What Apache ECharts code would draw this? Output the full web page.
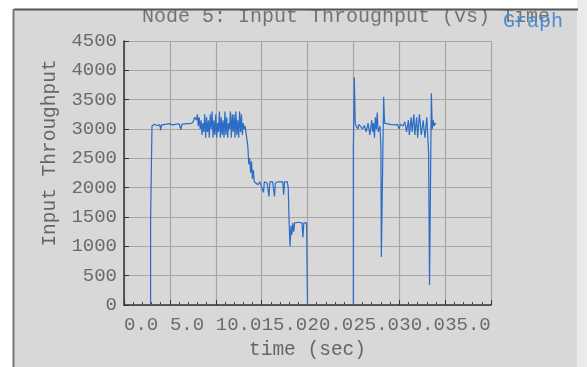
<!DOCTYPE html>
<html><head><meta charset="utf-8">
<script src="https://cdn.jsdelivr.net/npm/echarts@6/dist/echarts.min.js"></script>
<style>html,body{margin:0;padding:0;background:#fff}#c{width:587px;height:367px}</style>
</head><body><div id="c"></div>
<script>
var titleText = 'Node 5: Input Throughput (vs) Time';
var xName = 'time (sec)';
var yName = 'Input Throughput';
var xTickLabels = ['0.0','5.0','10.0','15.0','20.0','25.0','30.0','35.0'];

var t1 = [2.9,2.9,3.0,3.05,3.3,3.6,3.9,4.0,4.1,4.5,5.0,5.3,5.6,6.0,6.2,6.3,6.8,7.2,7.5,7.7,7.9,8.0,8.1,8.2,8.3,8.4,8.5,8.6,8.7,8.8,8.9,9.0,9.1,9.2,9.3,9.4,9.5,9.6,9.7,9.8,9.9,10.0,10.1,10.2,10.3,10.4,10.5,10.6,10.7,10.8,10.9,11.0,11.1,11.2,11.3,11.4,11.5,11.6,11.7,11.8,11.9,12.0,12.1,12.2,12.3,12.4,12.5,12.6,12.7,12.8,12.9,13.0,13.1,13.2,13.3,13.5,13.6,13.7,13.8,13.9,14.0,14.1,14.2,14.4,14.6,14.8,15.0,15.2,15.3,15.6,15.8,15.9,16.2,16.4,16.5,16.8,17.3,17.4,17.5,17.8,17.9,18.0,18.1,18.2,18.3,18.4,18.5,18.6,19.0,19.4,19.5,19.6,19.9,20.0,20.0];
var v1 = [0,1450,1450,3050,3080,3060,3070,2980,3070,3080,3090,3070,3080,3090,2990,3080,3090,3090,3110,3200,3150,3250,3050,3200,3000,3150,2900,3100,2950,3250,2850,3200,2950,3150,2850,3250,3000,3300,2850,3150,2900,3250,2850,3100,2950,3300,2850,3200,2900,3150,2850,3300,2900,3200,2850,3100,3000,3300,2850,3250,2950,3250,2850,3300,2900,3150,2850,3300,2950,3250,2900,3100,3000,3050,3050,2700,2400,2500,2250,2450,2150,2300,2100,2100,2050,2100,2100,1920,2100,2080,1850,2100,2100,1850,2080,2100,2100,1880,2100,2100,2000,1400,1000,1350,1200,1400,1250,1400,1410,1400,1150,1400,1400,1400,0];

var t2 = [25.0,25.0,25.1,25.2,25.3,25.5,25.6,25.8,26.0,26.2,26.4,26.6,26.8,27.0,27.1,27.2,27.3,27.4,27.5,27.6,27.7,27.9,28.0,28.05,28.1,28.3,28.4,28.6,29.0,29.5,29.8,30.0,30.1,30.4,30.6,30.8,31.0,31.1,31.3,31.4,31.6,31.7,31.9,32.0,32.2,32.4,32.6,32.8,33.0,33.1,33.2,33.3,33.5,33.6,33.7,33.8,33.9,34.0];
var v2 = [0,2700,3880,3100,3050,3000,3080,3050,3000,3060,2950,3100,2900,3150,2950,3100,2850,3200,3000,3280,2950,3050,2700,820,820,3550,3100,3080,3080,3070,3080,3000,3080,3050,3120,2950,3150,2900,3200,2950,3250,2900,3200,2850,3250,2900,3150,2850,3200,2900,2600,340,3610,3000,3150,3050,3100,3080];

function pairs(t, v){ return t.map(function(x,i){ return [x, v[i]]; }); }

var font = 'Liberation Mono';
var chart = echarts.init(document.getElementById('c'), null, {renderer:'canvas'});
var lineStyle = {color:'#2a6cc6', width:1.2};
chart.setOption({
  animation:false,
  backgroundColor:'#d8d8d8',
  title:{text:titleText, left:341, top:2, textAlign:'center',
    textStyle:{fontFamily:font, fontSize:20, fontWeight:'normal', color:'#737373'}},
  grid:{left:124, right:96, top:41, bottom:62},
  xAxis:{type:'value', min:0, max:40, interval:5,
    name:xName, nameLocation:'middle', nameGap:35,
    nameTextStyle:{fontFamily:font, fontSize:19.5, color:'#666'},
    axisLine:{show:true, lineStyle:{color:'#333', width:1.5}},
    axisTick:{show:true, inside:true, length:5, lineStyle:{color:'#333'}},
    minorTick:{show:true, splitNumber:5, length:3, lineStyle:{color:'#444'}},
    splitLine:{show:true, lineStyle:{color:'#a6a6a6', width:1.2}},
    axisLabel:{align:'left', margin:10, showMaxLabel:false,
      fontFamily:font, fontSize:19, color:'#6a6a6a',
      formatter:function(v){ var i=Math.round(v/5); return xTickLabels[i]||''; }}
  },
  yAxis:{type:'value', min:0, max:4500, interval:500,
    axisLine:{show:true, lineStyle:{color:'#333', width:1.5}},
    axisTick:{show:true, inside:true, length:5, lineStyle:{color:'#333'}},
    splitLine:{show:true, lineStyle:{color:'#a6a6a6', width:1.2}},
    axisLabel:{margin:7, fontFamily:font, fontSize:19, color:'#6a6a6a',
      formatter:function(v){ return String(v); }}
  },
  series:[
    {type:'line', data:pairs(t1,v1), showSymbol:false, lineStyle:lineStyle, z:3},
    {type:'line', data:pairs(t2,v2), showSymbol:false, lineStyle:lineStyle, z:3}
  ],
  graphic:[
    {type:'text', x:50, y:153, rotation:Math.PI/2, z:10,
      style:{text:yName, fontFamily:font, fontSize:19.5, fill:'#666', align:'center', verticalAlign:'middle'}},
    {type:'text', x:503, y:22, z:10,
      style:{text:'Graph', fontFamily:font, fontSize:20, fill:'#4d8ad4', align:'left', verticalAlign:'middle'}},
    {type:'rect', shape:{x:0,y:0,width:587,height:9}, style:{fill:'#ffffff'}, z:50},
    {type:'rect', shape:{x:0,y:0,width:13,height:367}, style:{fill:'#ffffff'}, z:50},
    {type:'rect', shape:{x:577,y:0,width:10,height:367}, style:{fill:'#ebebeb'}, z:50},
    {type:'line', shape:{x1:14,y1:9.5,x2:578,y2:9.5}, style:{stroke:'#555',lineWidth:2}, z:51},
    {type:'line', shape:{x1:13.5,y1:9,x2:13.5,y2:367}, style:{stroke:'#777',lineWidth:2}, z:51}
  ]
});
</script></body></html>
